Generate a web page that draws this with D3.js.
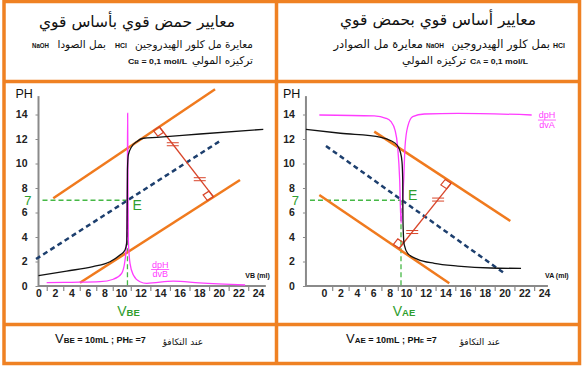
<!DOCTYPE html>
<html><head><meta charset="utf-8">
<script src="https://cdn.jsdelivr.net/npm/d3@7"></script>
<style>body{margin:0;background:#fff}svg{display:block}</style>
</head><body>
<svg id="c" width="582" height="366"></svg>
<script>
// ---------- data ----------
const xTickValues = [0,2,4,6,8,10,12,14,16,18,20,22,24];
const xMinorTicks = [1,3,5,7,9,11,13,15,17,19,21,23];
const yTickValues = [0,2,4,6,8,10,12,14];

// left: strong acid (HCl) titrated by strong base (NaOH)
const acidVB = [0, 3.4, 6.6, 8.66, 9.88, 10.41, 10.58, 10.62, 10.64, 10.66, 10.75, 11.09, 11.6, 12.28, 13.65, 18.07, 24.54];
const acidPH = [0.84, 1.22, 1.58, 1.98, 2.53, 2.94, 3.5, 5.0, 7.0, 9.5, 10.7, 11.37, 11.78, 12.06, 12.14, 12.41, 12.79];
const acidDerivV = [0.99, 4, 7.45, 9.07, 10.07, 10.41, 10.58, 10.65, 10.68, 10.71, 10.75, 10.92, 11.26, 11.94, 12.63, 15.35, 18, 22.68];
const acidDeriv  = [0.27, 0.3, 0.35, 0.55, 1.04, 2.1, 3.76, 9, 14.1, 9, 3.76, 1.85, 0.9, 0.35, 0.22, 0.4, 0.25, 0.08];
const acidUpperTangent = [[1.79, 7.16], [19.61, 16.06]];
const acidLowerTangent = [[5.03, 0.27], [22.16, 8.65]];
const acidMedian       = [[-0.3, 2.2], [20.28, 11.92]];
const acidPerp         = [[13.91, 13.0], [19.43, 7.29]];
const acidEqV = 10.66, acidEqPH = 7;

// right: strong base (NaOH) titrated by strong acid (HCl)
const baseVA = [-2.2, 2, 6.95, 8.17, 8.9, 9.3, 9.51, 9.6, 9.63, 9.72, 9.79, 10.17, 11.19, 12.87, 15.25, 18.62, 21.67];
const basePH = [12.79, 12.47, 12.14, 11.86, 11.51, 10.96, 10.15, 8.65, 5.39, 3.76, 3.35, 2.67, 2.18, 1.85, 1.63, 1.47, 1.44];
const baseDerivV = [-0.57, 6.13, 7.56, 8.17, 8.66, 8.98, 9.23, 9.39, 9.72, 9.88, 10.17, 10.68, 11.86, 15.25, 22.75];
const baseDeriv  = [13.96, 13.88, 13.69, 13.41, 12.73, 11.37, 8.65, 5.12, 8.65, 11.37, 13.0, 13.82, 14.04, 14.1, 13.96];
const baseUpperTangent = [[6.13, 12.6], [20.58, 5.31]];
const baseLowerTangent = [[-0.57, 7.43], [14.39, 0.22]];
const baseMedian       = [[0.24, 11.43], [19.97, 1.04]];
const basePerp         = [[9.18, 3.08], [14.57, 8.38]];
const baseEqV = 9.39, baseEqPH = 7;

// ---------- drawing ----------
const ORANGE = '#ef8123', LINE_OR = '#f07a1e', MAG = '#ff3cff', NAVY = '#1d3f6e', RED = '#d8452a', GREEN = '#2f9e2f', LGREEN = '#45b845', AX = '#8a8a8a';
const FONT = 'Liberation Sans, Arial, sans-serif';
const AR = 'DejaVu Sans, sans-serif';
const svg = d3.select('#c');

const y = d3.scaleLinear().domain([0, 14]).range([286, 114.5]);

function panel(o) {
  const x = o.x, g = svg.append('g');
  const ax0 = x(o.yAxisV);
  g.append('line').attr('x1', ax0).attr('x2', x(o.xEndV)).attr('y1', y(0)).attr('y2', y(0)).attr('stroke', AX).attr('stroke-width', 2);
  g.append('line').attr('x1', ax0).attr('x2', ax0).attr('y1', y(0) + 1).attr('y2', y(15.5)).attr('stroke', AX).attr('stroke-width', 2);
  const xa = g.append('g').attr('transform', `translate(0,${y(0)})`)
    .call(d3.axisBottom(x).tickValues(xTickValues).tickSize(0).tickPadding(4));
  xa.select('.domain').remove();
  xa.selectAll('text').attr('font-family', FONT).attr('font-size', 10.5).attr('font-weight', 'bold').attr('fill', '#222');
  const xm = g.append('g').attr('transform', `translate(0,${y(0)})`)
    .call(d3.axisBottom(x).tickValues(xMinorTicks).tickSize(5).tickFormat(''));
  xm.select('.domain').remove();
  xm.selectAll('line').attr('stroke', AX).attr('stroke-width', 1.2);
  const ya = g.append('g').attr('transform', `translate(${ax0},0)`)
    .call(d3.axisLeft(y).tickValues(yTickValues).tickSize(3).tickPadding(8));
  ya.select('.domain').remove();
  ya.selectAll('line').attr('stroke', AX);
  ya.selectAll('text').attr('font-family', FONT).attr('font-size', 10.5).attr('font-weight', 'bold').attr('fill', '#222');
  g.append('text').attr('x', ax0 - 23).attr('y', 98).text('PH').attr('font-family', FONT).attr('font-size', 12.5).attr('fill', '#111');
  g.append('text').attr('x', x(o.unitV)).attr('y', 278).text(o.unit).attr('font-family', FONT).attr('font-size', 7).attr('font-weight', 'bold').attr('fill', '#111');

  const L = d3.line().x(d => x(d[0])).y(d => y(d[1]));
  const ex = x(o.eqV), ey = y(o.eqPH);
  g.append('line').attr('x1', ax0 + 4).attr('x2', ex).attr('y1', ey).attr('y2', ey).attr('stroke', LGREEN).attr('stroke-width', 1.3).attr('stroke-dasharray', '5,3');
  g.append('line').attr('x1', ex).attr('x2', ex).attr('y1', ey).attr('y2', y(0) + 2).attr('stroke', LGREEN).attr('stroke-width', 1.3).attr('stroke-dasharray', '5,3');
  [o.upper, o.lower].forEach(t => g.append('path').attr('d', L(t)).attr('fill', 'none').attr('stroke', LINE_OR).attr('stroke-width', 2.5));
  g.append('path').attr('d', L(o.median)).attr('fill', 'none').attr('stroke', NAVY).attr('stroke-width', 2.5).attr('stroke-dasharray', '5,3.5');
  g.append('path').attr('d', L(o.perp)).attr('fill', 'none').attr('stroke', RED).attr('stroke-width', 1.3);
  const P0 = [x(o.perp[0][0]), y(o.perp[0][1])], P1 = [x(o.perp[1][0]), y(o.perp[1][1])];
  const unit = (a, b) => { const dx = b[0] - a[0], dy = b[1] - a[1], n = Math.hypot(dx, dy); return [dx / n, dy / n]; };
  const w01 = unit(P0, P1), w10 = unit(P1, P0);
  function square(P, tangent, w) {
    const T0 = [x(tangent[0][0]), y(tangent[0][1])];
    const u = unit(P, T0), s = 7;
    const pts = [P, [P[0] + s * u[0], P[1] + s * u[1]], [P[0] + s * (u[0] + w[0]), P[1] + s * (u[1] + w[1])], [P[0] + s * w[0], P[1] + s * w[1]]];
    g.append('path').attr('d', 'M' + pts.map(p => p.join(',')).join('L') + 'Z').attr('fill', 'none').attr('stroke', RED).attr('stroke-width', 1.2);
  }
  square(P0, o.perpStartTangent, w01);
  square(P1, o.perpEndTangent, w10);
  [0.25, 0.75].forEach(t => {
    const cx = P0[0] + t * (P1[0] - P0[0]), cy = P0[1] + t * (P1[1] - P0[1]);
    [-1.5, 1.5].forEach(d => g.append('line').attr('x1', cx - 6).attr('x2', cx + 6).attr('y1', cy + d).attr('y2', cy + d).attr('stroke', RED).attr('stroke-width', 1));
  });
  g.append('path').attr('d', L.curve(d3.curveMonotoneX)(d3.zip(o.dV, o.d))).attr('fill', 'none').attr('stroke', MAG).attr('stroke-width', 1.3);
  g.append('path').attr('d', L.curve(d3.curveMonotoneX)(d3.zip(o.cV, o.cPH))).attr('fill', 'none').attr('stroke', '#111').attr('stroke-width', 1.3);

  g.append('text').attr('x', ax0 - 7).attr('y', ey + 4.5).attr('text-anchor', 'end').text('7').attr('font-family', FONT).attr('font-size', 13).attr('fill', GREEN);
  g.append('text').attr('x', ex + o.eDx).attr('y', ey + o.eDy).text('E').attr('font-family', FONT).attr('font-size', 14).attr('fill', GREEN);
  const vl = g.append('text').attr('x', ex + o.vDx).attr('y', 316).attr('text-anchor', 'middle').attr('font-family', FONT).attr('fill', GREEN);
  vl.append('tspan').text('V').attr('font-size', 14);
  vl.append('tspan').text(o.sub).attr('font-size', 9.5).attr('font-weight', 'bold');
  const fx = x(o.fracV), fy = y(o.fracPH);
  g.append('text').attr('x', fx).attr('y', fy).attr('text-anchor', 'middle').text('dpH').attr('font-family', FONT).attr('font-size', 9).attr('fill', MAG);
  g.append('line').attr('x1', fx - 9).attr('x2', fx + 9).attr('y1', fy + 2).attr('y2', fy + 2).attr('stroke', MAG).attr('stroke-width', 0.8);
  g.append('text').attr('x', fx).attr('y', fy + 9.5).attr('text-anchor', 'middle').text(o.dv).attr('font-family', FONT).attr('font-size', 9).attr('fill', MAG);
}

panel({
  x: d3.scaleLinear().domain([0, 10, 24]).range([38.5, 121, 258]),
  yAxisV: 0, xEndV: 24.8, unitV: 22.7, unit: 'VB (ml)',
  cV: acidVB, cPH: acidPH, dV: acidDerivV, d: acidDeriv,
  upper: acidUpperTangent, lower: acidLowerTangent, median: acidMedian, perp: acidPerp,
  perpStartTangent: acidUpperTangent, perpEndTangent: acidLowerTangent,
  eqV: acidEqV, eqPH: acidEqPH, eDx: 5, eDy: 10, vDx: 1, sub: 'BE',
  fracV: 14.0, fracPH: 1.51, dv: 'dvB'
});
panel({
  x: d3.scaleLinear().domain([0, 10, 24]).range([324, 406, 544]),
  yAxisV: -2.2, xEndV: 24.4, unitV: 24.1, unit: 'VA (ml)',
  cV: baseVA, cPH: basePH, dV: baseDerivV, d: baseDeriv,
  upper: baseUpperTangent, lower: baseLowerTangent, median: baseMedian, perp: basePerp,
  perpStartTangent: baseLowerTangent, perpEndTangent: baseUpperTangent,
  eqV: baseEqV, eqPH: baseEqPH, eDx: 7, eDy: 0, vDx: 3, sub: 'AE',
  fracV: 24.3, fracPH: 13.71, dv: 'dvA'
});

// ---------- frame ----------
const fr = svg.append('g').attr('stroke', ORANGE).attr('stroke-width', 3.5).attr('fill', 'none');
fr.append('rect').attr('x', 4).attr('y', 1.5).attr('width', 575.5).attr('height', 362);
fr.append('line').attr('x1', 276.5).attr('x2', 276.5).attr('y1', 1.5).attr('y2', 363.5);
fr.append('line').attr('x1', 4).attr('x2', 579.5).attr('y1', 81.5).attr('y2', 81.5);
fr.append('line').attr('x1', 4).attr('x2', 579.5).attr('y1', 324.5).attr('y2', 324.5);

// ---------- header texts ----------
function t(x, yy, s, size, anchor, fam, weight, len) {
  const e = svg.append('text').attr('x', x).attr('y', yy).attr('text-anchor', anchor || 'start')
    .attr('font-family', fam || AR).attr('font-size', size).attr('font-weight', weight || 'normal').attr('fill', '#111').text(s);
  if (len) e.attr('textLength', len).attr('lengthAdjust', 'spacingAndGlyphs');
  return e;
}
t(137, 27, 'معايير حمض قوي  بأساس قوي', 15.5, 'middle');
t(438, 25, 'معايير أساس قوي بحمض قوي', 15.5, 'middle');
// left lines
t(253, 48, 'معايرة مل كلور الهيدروجين', 10.5, 'end');
t(115, 48, 'HCl', 7.5, 'start', FONT, 'bold', 12);
t(106, 48, 'بمل الصودا', 10.5, 'end');
t(32, 48, 'NaOH', 7.5, 'start', FONT, 'bold', 17);
t(253, 64, 'تركيزه المولي', 10.5, 'end');
const cb = svg.append('text').attr('x', 128).attr('y', 64).attr('font-family', FONT).attr('font-size', 8).attr('font-weight', 'bold').attr('fill', '#111')
  .attr('textLength', 59).attr('lengthAdjust', 'spacingAndGlyphs');
cb.append('tspan').text('C'); cb.append('tspan').text('B').attr('font-size', 6); cb.append('tspan').text(' = 0,1 mol/L');
// right lines
t(423, 48, 'معايرة مل الصوادر', 11.5, 'end');
t(426, 48, 'NaOH', 7.5, 'start', FONT, 'bold', 18);
t(550, 48, 'بمل كلور الهيدروجين', 11.5, 'end');
t(553, 48, 'HCl', 7.5, 'start', FONT, 'bold', 12);
t(466, 64, 'تركيزه المولي', 11, 'end');
const ca = svg.append('text').attr('x', 470).attr('y', 64).attr('font-family', FONT).attr('font-size', 8).attr('font-weight', 'bold').attr('fill', '#111')
  .attr('textLength', 58).attr('lengthAdjust', 'spacingAndGlyphs');
ca.append('tspan').text('C'); ca.append('tspan').text('A').attr('font-size', 6); ca.append('tspan').text(' = 0,1 mol/L');

// ---------- bottom texts ----------
function eqText(x0, sub) {
  const tx = svg.append('text').attr('x', x0).attr('y', 343).attr('font-family', FONT).attr('font-weight', 'bold').attr('fill', '#111');
  tx.append('tspan').text('V').attr('font-size', 13).attr('font-weight', 'normal');
  tx.append('tspan').text(sub).attr('font-size', 8);
  tx.append('tspan').text(' = 10mL ; PH').attr('font-size', 9);
  tx.append('tspan').text('E').attr('font-size', 6);
  tx.append('tspan').text(' =7').attr('font-size', 9);
}
eqText(55, 'BE');
eqText(346, 'AE');
t(203, 345, 'عند التكافؤ', 9, 'end');
t(500, 345, 'عند التكافؤ', 9, 'end');
</script>
</body></html>
